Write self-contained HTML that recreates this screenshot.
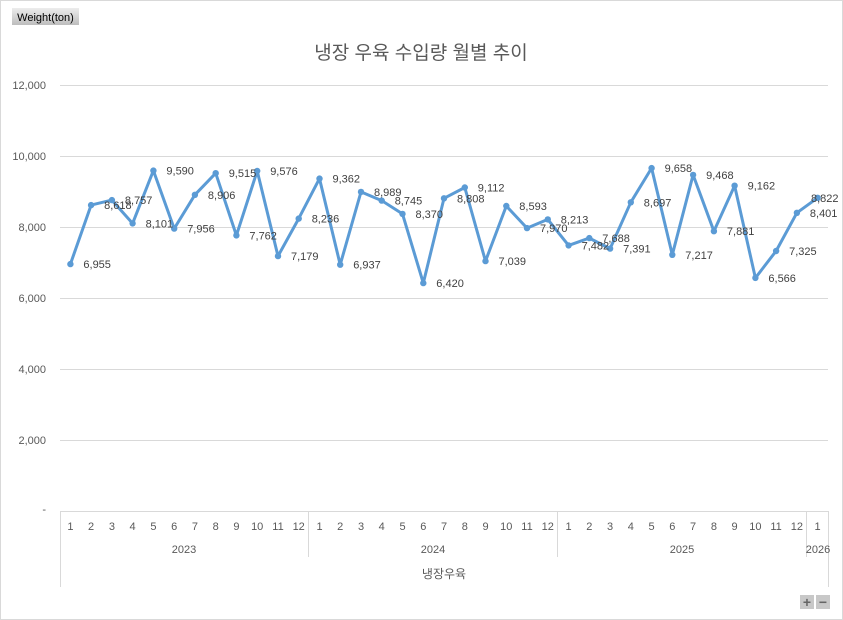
<!DOCTYPE html>
<html><head><meta charset="utf-8"><style>
html,body{margin:0;padding:0;background:#fff;}
svg{display:block;font-family:"Liberation Sans","Noto Sans CJK KR",sans-serif;}
</style></head><body>
<svg width="843" height="620" viewBox="0 0 843 620" xmlns="http://www.w3.org/2000/svg">
<rect x="0.5" y="0.5" width="842" height="619" fill="#fff" stroke="#d9d9d9"/>
<defs><linearGradient id="g" x1="0" y1="0" x2="0" y2="1"><stop offset="0" stop-color="#ececec"/><stop offset="1" stop-color="#bdbdbd"/></linearGradient></defs>
<rect x="12" y="8" width="67" height="17" fill="url(#g)"/>
<text x="45.5" y="21" font-size="11" text-anchor="middle" fill="#000">Weight(ton)</text>
<text x="421" y="59" font-size="19" text-anchor="middle" fill="#595959">냉장 우육 수입량 월별 추이</text>
<g stroke="#d9d9d9" stroke-width="1">
<line x1="60" y1="85.5" x2="828" y2="85.5"/>
<line x1="60" y1="156.5" x2="828" y2="156.5"/>
<line x1="60" y1="227.5" x2="828" y2="227.5"/>
<line x1="60" y1="298.5" x2="828" y2="298.5"/>
<line x1="60" y1="369.5" x2="828" y2="369.5"/>
<line x1="60" y1="440.5" x2="828" y2="440.5"/>
<line x1="60" y1="511.5" x2="828" y2="511.5"/>
<line x1="60.5" y1="511" x2="60.5" y2="587"/>
<line x1="308.5" y1="511" x2="308.5" y2="557"/>
<line x1="557.5" y1="511" x2="557.5" y2="557"/>
<line x1="806.5" y1="511" x2="806.5" y2="557"/>
<line x1="828.5" y1="511" x2="828.5" y2="587"/>
</g>
<g font-size="11" fill="#595959" text-anchor="end">
<text x="46" y="89">12,000</text><text x="46" y="160">10,000</text><text x="46" y="231">8,000</text><text x="46" y="302">6,000</text><text x="46" y="373">4,000</text><text x="46" y="444">2,000</text><text x="46" y="513">-</text>
</g>
<g font-size="11" fill="#595959" text-anchor="middle">
<text x="70.4" y="530">1</text><text x="91.1" y="530">2</text><text x="111.9" y="530">3</text><text x="132.6" y="530">4</text><text x="153.4" y="530">5</text><text x="174.2" y="530">6</text><text x="194.9" y="530">7</text><text x="215.7" y="530">8</text><text x="236.4" y="530">9</text><text x="257.2" y="530">10</text><text x="278" y="530">11</text><text x="298.7" y="530">12</text>
<text x="319.5" y="530">1</text><text x="340.2" y="530">2</text><text x="361" y="530">3</text><text x="381.7" y="530">4</text><text x="402.5" y="530">5</text><text x="423.3" y="530">6</text><text x="444" y="530">7</text><text x="464.8" y="530">8</text><text x="485.5" y="530">9</text><text x="506.3" y="530">10</text><text x="527" y="530">11</text><text x="547.8" y="530">12</text>
<text x="568.6" y="530">1</text><text x="589.3" y="530">2</text><text x="610.1" y="530">3</text><text x="630.8" y="530">4</text><text x="651.6" y="530">5</text><text x="672.3" y="530">6</text><text x="693.1" y="530">7</text><text x="713.9" y="530">8</text><text x="734.6" y="530">9</text><text x="755.4" y="530">10</text><text x="776.1" y="530">11</text><text x="796.9" y="530">12</text>
<text x="817.6" y="530">1</text>
<text x="184" y="553">2023</text><text x="433" y="553">2024</text><text x="682" y="553">2025</text><text x="818" y="553">2026</text>
<text x="444" y="578" font-size="12">냉장우육</text>
</g>
<polyline fill="none" stroke="#5b9bd5" stroke-width="3" stroke-linejoin="round" points="70.4,264.1 91.1,205.1 111.9,200.1 132.6,223.4 153.4,170.6 174.2,228.6 194.9,194.8 215.7,173.2 236.4,235.4 257.2,171 278,256.1 298.7,218.6 319.5,178.6 340.2,264.7 361,191.9 381.7,200.6 402.5,213.9 423.3,283.1 444,198.3 464.8,187.5 485.5,261.1 506.3,206 527,228.1 547.8,219.4 568.6,245.4 589.3,238.1 610.1,248.6 630.8,202.3 651.6,168.1 672.3,254.8 693.1,174.9 713.9,231.2 734.6,185.7 755.4,277.9 776.1,251 796.9,212.8 817.6,197.8"/>
<g fill="#5b9bd5">
<circle cx="70.4" cy="264.1" r="3.2"/><circle cx="91.1" cy="205.1" r="3.2"/><circle cx="111.9" cy="200.1" r="3.2"/><circle cx="132.6" cy="223.4" r="3.2"/><circle cx="153.4" cy="170.6" r="3.2"/><circle cx="174.2" cy="228.6" r="3.2"/><circle cx="194.9" cy="194.8" r="3.2"/><circle cx="215.7" cy="173.2" r="3.2"/><circle cx="236.4" cy="235.4" r="3.2"/><circle cx="257.2" cy="171" r="3.2"/><circle cx="278" cy="256.1" r="3.2"/><circle cx="298.7" cy="218.6" r="3.2"/><circle cx="319.5" cy="178.6" r="3.2"/><circle cx="340.2" cy="264.7" r="3.2"/><circle cx="361" cy="191.9" r="3.2"/><circle cx="381.7" cy="200.6" r="3.2"/><circle cx="402.5" cy="213.9" r="3.2"/><circle cx="423.3" cy="283.1" r="3.2"/><circle cx="444" cy="198.3" r="3.2"/><circle cx="464.8" cy="187.5" r="3.2"/><circle cx="485.5" cy="261.1" r="3.2"/><circle cx="506.3" cy="206" r="3.2"/><circle cx="527" cy="228.1" r="3.2"/><circle cx="547.8" cy="219.4" r="3.2"/><circle cx="568.6" cy="245.4" r="3.2"/><circle cx="589.3" cy="238.1" r="3.2"/><circle cx="610.1" cy="248.6" r="3.2"/><circle cx="630.8" cy="202.3" r="3.2"/><circle cx="651.6" cy="168.1" r="3.2"/><circle cx="672.3" cy="254.8" r="3.2"/><circle cx="693.1" cy="174.9" r="3.2"/><circle cx="713.9" cy="231.2" r="3.2"/><circle cx="734.6" cy="185.7" r="3.2"/><circle cx="755.4" cy="277.9" r="3.2"/><circle cx="776.1" cy="251" r="3.2"/><circle cx="796.9" cy="212.8" r="3.2"/><circle cx="817.6" cy="197.8" r="3.2"/>
</g>
<g font-size="11" fill="#404040">
<text x="83.4" y="268.1">6,955</text><text x="104.1" y="209.1">8,618</text><text x="124.9" y="204.1">8,757</text><text x="145.6" y="227.4">8,101</text><text x="166.4" y="174.6">9,590</text><text x="187.2" y="232.6">7,956</text><text x="207.9" y="198.8">8,906</text><text x="228.7" y="177.2">9,515</text><text x="249.4" y="239.4">7,762</text><text x="270.2" y="175">9,576</text><text x="291" y="260.1">7,179</text><text x="311.7" y="222.6">8,236</text>
<text x="332.5" y="182.6">9,362</text><text x="353.2" y="268.7">6,937</text><text x="374" y="195.9">8,989</text><text x="394.7" y="204.6">8,745</text><text x="415.5" y="217.9">8,370</text><text x="436.3" y="287.1">6,420</text><text x="457" y="202.3">8,808</text><text x="477.8" y="191.5">9,112</text><text x="498.5" y="265.1">7,039</text><text x="519.3" y="210">8,593</text><text x="540" y="232.1">7,970</text><text x="560.8" y="223.4">8,213</text>
<text x="581.6" y="249.4">7,482</text><text x="602.3" y="242.1">7,688</text><text x="623.1" y="252.6">7,391</text><text x="643.8" y="206.3">8,697</text><text x="664.6" y="172.1">9,658</text><text x="685.3" y="258.8">7,217</text><text x="706.1" y="178.9">9,468</text><text x="726.9" y="235.2">7,881</text><text x="747.6" y="189.7">9,162</text><text x="768.4" y="281.9">6,566</text><text x="789.1" y="255">7,325</text><text x="809.9" y="216.8">8,401</text><text x="811" y="201.8">8,822</text>
</g>
<rect x="800" y="595" width="14" height="14" fill="#c8c8c8"/><rect x="816" y="595" width="14" height="14" fill="#c8c8c8"/>
<text x="807" y="607" font-size="14" font-weight="bold" text-anchor="middle" fill="#666">+</text>
<text x="823" y="607" font-size="14" font-weight="bold" text-anchor="middle" fill="#666">−</text>
</svg>
</body></html>
